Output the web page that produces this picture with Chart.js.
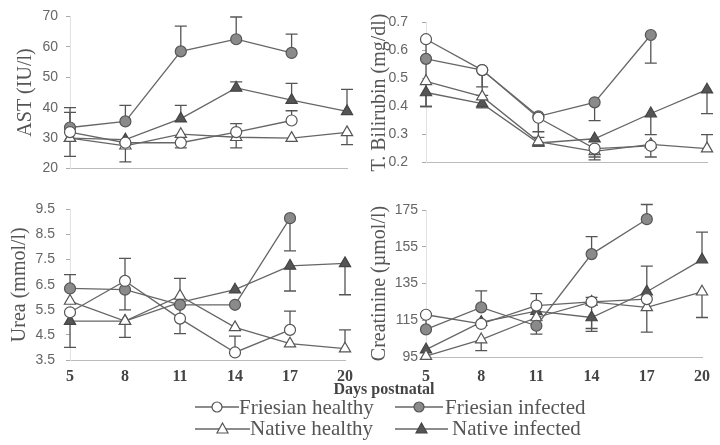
<!DOCTYPE html>
<html>
<head>
<meta charset="utf-8">
<script src="https://cdn.jsdelivr.net/npm/chart.js@4.4.1/dist/chart.umd.min.js"></script>
<style>
  body { margin: 0; background: #fff; }
  #wrap { position: relative; width: 720px; height: 445px; overflow: hidden; font-family: 'Liberation Serif', serif; color: #555; }
  canvas { position: absolute; }
  .xtitle { position: absolute; left: 284px; width: 200px; top: 380px; text-align: center; font-weight: bold; font-size: 16px; line-height: 18px; color: #444; }
  .leg { position: absolute; display: flex; align-items: center; font-size: 21px; line-height: 22px; white-space: nowrap; }
  .leg svg { display: block; }
</style>
</head>
<body>
<div id="wrap">
  <canvas id="ast" width="360" height="185" style="left:0;top:0"></canvas>
  <canvas id="bil" width="360" height="185" style="left:360px;top:0"></canvas>
  <canvas id="urea" width="360" height="200" style="left:0;top:190px"></canvas>
  <canvas id="cre" width="360" height="200" style="left:360px;top:190px"></canvas>
  <div class="xtitle">Days postnatal</div>
  <div class="leg" style="left:195px;top:396px"><svg width="44" height="14"><line x1="0" y1="7" x2="44" y2="7" stroke="#666" stroke-width="1.3"/><circle cx="22" cy="7" r="5" fill="#fff" stroke="#555" stroke-width="1.2"/></svg><span>Friesian healthy</span></div>
  <div class="leg" style="left:395px;top:396px"><svg width="48" height="14"><line x1="0" y1="7" x2="48" y2="7" stroke="#666" stroke-width="1.3"/><circle cx="24" cy="7" r="5" fill="#8a8a8a" stroke="#555" stroke-width="1.2"/></svg><span style="margin-left:2px">Friesian infected</span></div>
  <div class="leg" style="left:195px;top:417px"><svg width="55" height="14"><line x1="0" y1="8" x2="55" y2="8" stroke="#666" stroke-width="1.3"/><polygon points="27.5,2 33,12 22,12" fill="#fff" stroke="#555" stroke-width="1.2"/></svg><span>Native healthy</span></div>
  <div class="leg" style="left:395px;top:417px"><svg width="53" height="14"><line x1="0" y1="8" x2="53" y2="8" stroke="#666" stroke-width="1.3"/><polygon points="26.5,2 32,12 21,12" fill="#555" stroke="#444" stroke-width="1.2"/></svg><span style="margin-left:4px">Native infected</span></div>
</div>
<script>
const days = ['5', '8', '11', '14', '17', '20'];

// AST (IU/l)
const astFH = [32, 28.5, 28.5, 32, 35.8, null];
const astFI = [33.5, 35.5, 58.5, 62.5, 58, null];
const astNH = [30, 27.5, 31.3, 30.3, 30, 31.9];
const astNI = [30, 29.5, 36.4, 46.5, 42.5, 38.8];
const astFHerr = [null, null, 26.8, 34.8, 39, null];
const astFIerr = [40, 40.8, 66.8, 69.8, 64.2, null];
const astNHerr = [24, 22.2, null, 26.8, null, 27.9];
const astNIerr = [38.5, null, 40.8, 48.5, 48, 46];
const astTicks = [20, 30, 40, 50, 60, 70];

// T. Bilirubin (mg/dl)
const bilFH = [0.64, 0.53, 0.36, 0.25, 0.26, null];
const bilFI = [0.57, 0.53, 0.365, 0.415, 0.655, null];
const bilNH = [0.49, 0.435, 0.275, 0.24, 0.265, 0.25];
const bilNI = [0.45, 0.41, 0.27, 0.285, 0.375, 0.46];
const bilFHerr = [0.40, 0.44, 0.31, 0.21, 0.22, null];
const bilFIerr = [null, 0.47, 0.29, 0.35, 0.555, null];
const bilNHerr = [null, null, null, 0.22, null, 0.30];
const bilNIerr = [0.40, 0.395, 0.26, null, 0.30, 0.375];
const bilTicks = [0.2, 0.3, 0.4, 0.5, 0.6, 0.7];

// Urea (mmol/l)
const ureaFH = [5.4, 6.65, 5.15, 3.8, 4.7, null];
const ureaFI = [6.35, 6.3, 5.7, 5.7, 9.15, null];
const ureaNH = [5.85, 5.05, 6.05, 4.8, 4.15, 3.95];
const ureaNI = [5.05, 5.05, 5.8, 6.3, 7.25, 7.35];
const ureaFHerr = [null, 7.55, null, 4.45, 5.45, null];
const ureaFIerr = [6.9, 5.5, null, null, 7.85, null];
const ureaNHerr = [null, 4.4, 6.75, null, null, 4.7];
const ureaNIerr = [4.0, null, 4.55, null, 6.25, 6.1];
const ureaTicks = [3.5, 4.5, 5.5, 6.5, 7.5, 8.5, 9.5];

// Creatinine (µmol/l)
const creFH = [118, 113, 123, 125, 126.5, null];
const creFI = [110, 122, 112, 151, 170, null];
const creNH = [95.5, 104.5, 116.5, 125, 122, 130.5];
const creNI = [99, 114, 120, 116.5, 130.5, 148];
const creFHerr = [null, null, 129.5, 127.5, 108.5, null];
const creFIerr = [118.5, 131, 107.5, 160.5, 178, null];
const creNHerr = [null, 98.5, null, 109, null, 116.5];
const creNIerr = [null, null, null, 110.5, 144.5, 163];
const creTicks = [95, 115, 135, 155, 175];

const errorBars = {
  id: 'errorBars',
  beforeDatasetsDraw(chart) {
    const ctx = chart.ctx, xs = chart.scales.x, ys = chart.scales.y;
    ctx.save();
    ctx.strokeStyle = '#555';
    ctx.lineWidth = 1.3;
    chart.data.datasets.forEach(ds => {
      (ds.err || []).forEach((e, i) => {
        const v = ds.data[i];
        if (e == null || v == null) return;
        const px = xs.getPixelForValue(i), p0 = ys.getPixelForValue(v), p1 = ys.getPixelForValue(e);
        ctx.beginPath();
        ctx.moveTo(px, p0); ctx.lineTo(px, p1);
        ctx.moveTo(px - 6, p1); ctx.lineTo(px + 6, p1);
        ctx.stroke();
      });
    });
    ctx.restore();
  }
};

const styles = {
  FH: { pointStyle: 'circle', pointBackgroundColor: '#fff', pointBorderColor: '#555', pointRadius: 5.5 },
  FI: { pointStyle: 'circle', pointBackgroundColor: '#8a8a8a', pointBorderColor: '#555', pointRadius: 5.5 },
  NH: { pointStyle: 'triangle', pointBackgroundColor: '#fff', pointBorderColor: '#555', pointRadius: 6.5 },
  NI: { pointStyle: 'triangle', pointBackgroundColor: '#555', pointBorderColor: '#444', pointRadius: 6.5 }
};

function series(key, data, err) {
  return Object.assign({ data, err, borderColor: '#666', borderWidth: 1.3, pointBorderWidth: 1.2, clip: false, tension: 0 }, styles[key]);
}

function panel(id, p) {
  new Chart(document.getElementById(id), {
    type: 'line',
    data: {
      labels: days,
      datasets: [
        series('FH', p.fh[0], p.fh[1]),
        series('FI', p.fi[0], p.fi[1]),
        series('NH', p.nh[0], p.nh[1]),
        series('NI', p.ni[0], p.ni[1])
      ]
    },
    options: {
      responsive: false, animation: false, devicePixelRatio: 1,
      layout: { padding: { top: p.top, right: p.right, bottom: p.bottom, left: 0 } },
      plugins: { legend: { display: false }, tooltip: { enabled: false } },
      scales: {
        x: {
          type: 'category', offset: false,
          grid: { display: false, drawTicks: false },
          border: { display: true, color: '#bbb', dash: [7, 3] },
          ticks: { display: p.showX, padding: p.xPad, color: '#444', font: { family: 'Liberation Serif', size: 16, weight: 'bold' } },
          afterFit(s) { s.height = p.xH; }
        },
        y: {
          min: p.ticks[0], max: p.ticks[p.ticks.length - 1],
          afterBuildTicks(s) { s.ticks = p.ticks.map(v => ({ value: v })); },
          ticks: { padding: p.yPad, color: '#666', font: { family: 'Liberation Sans', size: 14 }, callback: v => p.fmt(v) },
          grid: { drawOnChartArea: false, tickLength: 4, color: '#aaa' },
          border: { color: '#e2e2e2' },
          title: { display: true, text: p.title, color: '#555', font: { family: 'Liberation Serif', size: 20 }, padding: { top: p.tPad, bottom: 0 } },
          afterFit(s) { s.width = p.yW; }
        }
      }
    },
    plugins: [errorBars]
  });
}

panel('ast', {
  fh: [astFH, astFHerr], fi: [astFI, astFIerr], nh: [astNH, astNHerr], ni: [astNI, astNIerr],
  ticks: astTicks, fmt: v => String(v), title: 'AST (IU/l)',
  top: 15, right: 13, bottom: 13, showX: false, xPad: 0, xH: 0, yW: 70, yPad: 8, tPad: 14
});
panel('bil', {
  fh: [bilFH, bilFHerr], fi: [bilFI, bilFIerr], nh: [bilNH, bilNHerr], ni: [bilNI, bilNIerr],
  ticks: bilTicks, fmt: v => v.toFixed(1), title: 'T. Bilirubin (mg/dl)',
  top: 15, right: 13, bottom: 13, showX: false, xPad: 0, xH: 0, yW: 66, yPad: 14, tPad: 8
});
panel('urea', {
  fh: [ureaFH, ureaFHerr], fi: [ureaFI, ureaFIerr], nh: [ureaNH, ureaNHerr], ni: [ureaNI, ureaNIerr],
  ticks: ureaTicks, fmt: v => v.toFixed(1), title: 'Urea (mmol/l)',
  top: 12, right: 13, bottom: 0, showX: true, xPad: 7, xH: 30, yW: 70, yPad: 11, tPad: 8
});
panel('cre', {
  fh: [creFH, creFHerr], fi: [creFI, creFIerr], nh: [creNH, creNHerr], ni: [creNI, creNIerr],
  ticks: creTicks, fmt: v => String(v), title: 'Creatinine (µmol/l)',
  top: 20, right: 13, bottom: 0, showX: true, xPad: 10, xH: 33, yW: 66, yPad: 4, tPad: 8
});
</script>
</body>
</html>
